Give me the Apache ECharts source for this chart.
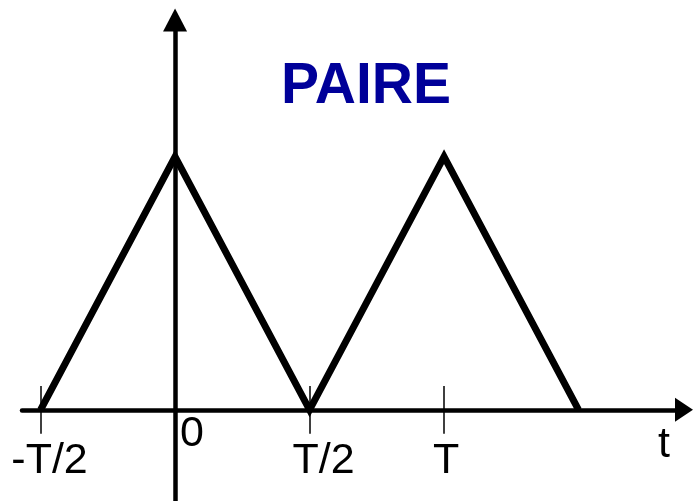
<!DOCTYPE html>
<html>
<head>
<meta charset="utf-8">
<script src="https://cdn.jsdelivr.net/npm/echarts@6/dist/echarts.min.js"></script>
<style>
  html, body { margin: 0; padding: 0; background: #fff; }
  #main { width: 693px; height: 501px; }
</style>
</head>
<body>
<div id="main"></div>
<script>
// signal triangulaire pair : x en periodes T, y en amplitude
const waveX = [-0.5, 0, 0.5, 1, 1.5];
const waveY = [0, 1, 0, 1, 0];
const tickValues = [-0.5, 0.5, 1];
const labelValues = [-0.5, 0, 0.5, 1];
const labelTexts = ['-T/2', '0', 'T/2', 'T'];
const labelStyles = ['a', 'b', 'c', 'd'];

const chart = echarts.init(document.getElementById('main'));

let points = [];
for (let i = 0; i < waveX.length; i++) {
  points.push([waveX[i], waveY[i]]);
}

let rich = {
  a: { fontSize: 43, color: '#000', fontFamily: 'Liberation Sans', padding: [27, 0, 0, 18] },
  b: { fontSize: 43, color: '#000', fontFamily: 'Liberation Sans', padding: [0, 0, 0, 34] },
  c: { fontSize: 43, color: '#000', fontFamily: 'Liberation Sans', padding: [27, 0, 0, 28] },
  d: { fontSize: 43, color: '#000', fontFamily: 'Liberation Sans', padding: [27, 0, 0, 4] }
};

const option = {
  animation: false,
  title: {
    text: 'PAIRE',
    left: 281,
    top: 59,
    padding: 0,
    textStyle: {
      fontFamily: 'Liberation Sans',
      fontWeight: 'bold',
      fontSize: 57,
      color: '#000099'
    }
  },
  graphic: [
    {
      type: 'text',
      left: 658,
      top: 424,
      style: { text: 't', font: '43px "Liberation Sans"', fill: '#000' }
    }
  ],
  grid: { left: 22, right: 9, top: 20, bottom: 0, outerBoundsMode: 'none' },
  xAxis: [
    {
      type: 'value',
      min: -0.569,
      max: 1.892,
      position: 'bottom',
      splitLine: { show: false },
      axisLine: {
        onZero: true,
        symbol: ['none', 'triangle'],
        symbolSize: [24, 18],
        lineStyle: { color: '#000', width: 4.5 }
      },
      axisTick: {
        customValues: tickValues,
        length: 24,
        lineStyle: { color: '#000', width: 1.5 }
      },
      axisLabel: { show: false }
    },
    {
      // moitie haute des graduations + etiquettes
      type: 'value',
      min: -0.569,
      max: 1.892,
      position: 'top',
      offset: -390,
      splitLine: { show: false },
      axisLine: { show: false, onZero: false },
      axisTick: {
        customValues: tickValues,
        length: 24,
        lineStyle: { color: '#000', width: 1.5 }
      },
      axisLabel: {
        customValues: labelValues,
        inside: true,
        margin: 3,
        formatter: function (v) {
          let i = labelValues.indexOf(v);
          return '{' + labelStyles[i] + '|' + labelTexts[i] + '}';
        },
        rich: rich
      }
    }
  ],
  yAxis: {
    type: 'value',
    min: -0.36,
    max: 1.54,
    splitLine: { show: false },
    axisLine: {
      onZero: true,
      symbol: ['none', 'triangle'],
      symbolSize: [24, 23],
      lineStyle: { color: '#000', width: 4.5 }
    },
    axisTick: { show: false },
    axisLabel: { show: false }
  },
  series: [
    {
      type: 'line',
      data: points,
      showSymbol: false,
      lineStyle: { color: '#000', width: 7, join: 'miter' }
    }
  ]
};

chart.setOption(option);
</script>
</body>
</html>
